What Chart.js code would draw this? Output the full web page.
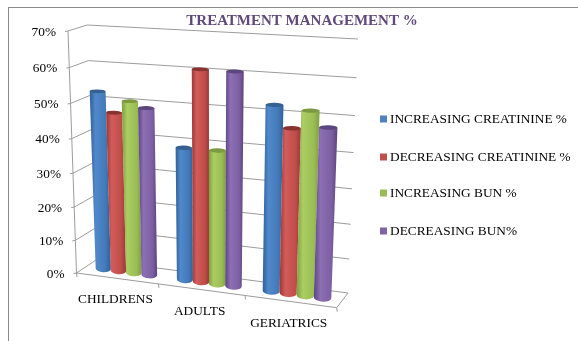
<!DOCTYPE html>
<html>
<head>
<meta charset="utf-8">
<title>Treatment management</title>
<script src="https://cdn.jsdelivr.net/npm/chart.js@4/dist/chart.umd.min.js"></script>
<style>
    html, body { margin: 0; padding: 0; background: #fff; }
    #caixa { position: relative; width: 578px; height: 341px; overflow: hidden; }
    #caixa canvas { position: absolute; left: 0; top: 0; }
    #moldura { position: absolute; left: 8px; top: 7px; right: -2px; bottom: -2px; border: 1px solid #8a8a8a; }
</style>
</head>
<body>
<div id="caixa">
    <canvas id="grafico" width="578" height="341"></canvas>
    <div id="moldura"></div>
</div>
<script>
const categories = ['CHILDRENS', 'ADULTS', 'GERIATRICS'];
const increasingCreatinine = [52.7, 38.7, 52.5];
const decreasingCreatinine = [47, 60.7, 46.6];
const increasingBun = [50.6, 38.8, 51.7];
const decreasingBun = [49, 60.7, 47.6];
const seriesNames = ['INCREASING CREATININE %', 'DECREASING CREATININE %', 'INCREASING BUN %', 'DECREASING BUN%'];
const seriesColors = ['#4F81BD', '#C0504D', '#9BBB59', '#8064A2'];
const valueMax = 70;
const valueStep = 10;

// dark edge, highlight, mid tone and cap colour of each cylinder
const shades = [
    ['#2f5f97', '#5089cb', '#4379b8', '#35608f'],
    ['#993835', '#d25c59', '#bf4d4a', '#8a3230'],
    ['#7f9f40', '#abcd63', '#9abd54', '#7d9a42'],
    ['#5c447e', '#8c6fb4', '#7c60a2', '#5d4680']
];

const FONT = '"Liberation Serif", "Times New Roman", serif';
const LINE = '#9c9c9c';

// maps the unit square onto a quadrilateral (p0 = 0,0  p1 = 1,0  p2 = 1,1  p3 = 0,1)
function homography(p0, p1, p2, p3) {
    const dx1 = p1[0] - p2[0], dx2 = p3[0] - p2[0], sx = p0[0] - p1[0] + p2[0] - p3[0];
    const dy1 = p1[1] - p2[1], dy2 = p3[1] - p2[1], sy = p0[1] - p1[1] + p2[1] - p3[1];
    const den = dx1 * dy2 - dx2 * dy1;
    const g = (sx * dy2 - dx2 * sy) / den;
    const h = (dx1 * sy - sx * dy1) / den;
    const a = p1[0] - p0[0] + g * p1[0], b = p3[0] - p0[0] + h * p3[0];
    const d = p1[1] - p0[1] + g * p1[1], e = p3[1] - p0[1] + h * p3[1];
    return function (u, v) {
        const w = g * u + h * v + 1;
        return [(a * u + b * v + p0[0]) / w, (d * u + e * v + p0[1]) / w];
    };
}

function middle(a, b) {
    return [(a[0] + b[0]) / 2, (a[1] + b[1]) / 2];
}

// the box: front plane, back wall, and the plane the bars stand in
const frontBL = [76.5, 273], frontBR = [336.7, 307.7], frontTR = [347, 45.5], frontTL = [68, 31];
const backBL = [96, 260], backBR = [348, 293], backTR = [358, 39], backTL = [87, 25];
const frontPlane = homography(frontBL, frontBR, frontTR, frontTL);
const backPlane = homography(backBL, backBR, backTR, backTL);
const barPlane = homography(middle(frontBL, backBL), middle(frontBR, backBR), middle(frontTR, backTR), middle(frontTL, backTL));

function line(ctx, a, b) {
    ctx.beginPath();
    ctx.moveTo(a[0], a[1]);
    ctx.lineTo(b[0], b[1]);
    ctx.stroke();
}

function drawBox(chart) {
    const ctx = chart.ctx, area = chart.chartArea;
    const x = chart.scales.x, y = chart.scales.y;
    ctx.save();
    ctx.strokeStyle = LINE;
    ctx.lineWidth = 1;
    ctx.fillStyle = '#000';
    ctx.font = '13.33px ' + FONT;
    ctx.textBaseline = 'middle';

    // gridlines and value labels
    line(ctx, frontPlane(0, 0), frontPlane(0, 1));
    y.ticks.forEach(function (tick) {
        const v = (area.bottom - y.getPixelForValue(tick.value)) / area.height;
        const f = frontPlane(0, v);
        line(ctx, [f[0] - 3, f[1] + 0.5], f);
        line(ctx, f, backPlane(0, v));
        line(ctx, backPlane(0, v), backPlane(1, v));
        ctx.textAlign = 'right';
        ctx.fillText(tick.label, f[0] - 12, f[1] + 1);
    });

    // floor
    line(ctx, frontPlane(0, 0), frontPlane(1, 0));
    line(ctx, frontPlane(1, 0), backPlane(1, 0));

    // category separators and labels
    ctx.textAlign = 'center';
    categories.forEach(function (name, i) {
        const c = x.getPixelForValue(i);
        const half = x.width / categories.length / 2;
        const left = frontPlane((c - half - area.left) / area.width, 0);
        const right = frontPlane((c + half - area.left) / area.width, 0);
        if (i === 0) line(ctx, left, [left[0] + 0.5, left[1] + 4]);
        line(ctx, right, [right[0] + 0.5, right[1] + 4]);
        const mid = frontPlane((c - area.left) / area.width, 0);
        ctx.fillText(name, mid[0] - 1.5, mid[1] + 21.5);
    });
    ctx.restore();
}

function drawCylinder(ctx, el, area, shade) {
    const uL = (el.x - el.width / 2 - area.left) / area.width;
    const uR = (el.x + el.width / 2 - area.left) / area.width;
    const v0 = (area.bottom - el.base) / area.height;
    const v1 = (area.bottom - el.y) / area.height;
    const bl = barPlane(uL, v0), br = barPlane(uR, v0), tr = barPlane(uR, v1), tl = barPlane(uL, v1);

    const bc = middle(bl, br), tc = middle(tl, tr);
    const bRx = Math.hypot(br[0] - bl[0], br[1] - bl[1]) / 2;
    const tRx = Math.hypot(tr[0] - tl[0], tr[1] - tl[1]) / 2;
    // the round ends stay much flatter than the plane they sit in
    const bAng = Math.atan2(br[1] - bl[1], br[0] - bl[0]) * 0.5;
    const tAng = Math.atan2(tr[1] - tl[1], tr[0] - tl[0]) * 0.3;
    const bRy = bRx * 0.45;
    const tRy = tRx * (0.2 + 0.15 * (1 - v1));
    const footL = [bc[0] - bRx * Math.cos(bAng), bc[1] - bRx * Math.sin(bAng)];
    const footR = [bc[0] + bRx * Math.cos(bAng), bc[1] + bRx * Math.sin(bAng)];
    const headL = [tc[0] - tRx * Math.cos(tAng), tc[1] - tRx * Math.sin(tAng)];
    const headR = [tc[0] + tRx * Math.cos(tAng), tc[1] + tRx * Math.sin(tAng)];

    const grad = ctx.createLinearGradient(Math.min(footL[0], headL[0]), 0, Math.max(footR[0], headR[0]), 0);
    grad.addColorStop(0, shade[0]);
    grad.addColorStop(0.28, shade[1]);
    grad.addColorStop(0.75, shade[2]);
    grad.addColorStop(1, shade[0]);

    // body with the rounded foot
    ctx.beginPath();
    ctx.moveTo(headL[0], headL[1]);
    ctx.lineTo(footL[0], footL[1]);
    ctx.ellipse(bc[0], bc[1], bRx, bRy, bAng, Math.PI, 0, true);
    ctx.lineTo(headR[0], headR[1]);
    ctx.closePath();
    ctx.fillStyle = grad;
    ctx.fill();

    // top cap
    ctx.beginPath();
    ctx.ellipse(tc[0], tc[1], tRx, tRy, tAng, 0, Math.PI * 2);
    ctx.fillStyle = shade[3];
    ctx.fill();
}

function drawLegend(chart) {
    const ctx = chart.ctx;
    const rows = [119, 157, 193, 231];
    ctx.save();
    ctx.font = '13.33px ' + FONT;
    ctx.textBaseline = 'middle';
    ctx.textAlign = 'left';
    chart.data.datasets.forEach(function (ds, i) {
        ctx.fillStyle = ds.backgroundColor;
        ctx.fillRect(380, rows[i] - 3.5, 7, 7);
        ctx.fillStyle = '#000';
        ctx.fillText(ds.label, 390, rows[i]);
    });
    ctx.restore();
}

const perspectivaPlugin = {
    id: 'perspectiva',
    beforeDatasetsDraw(chart) {
        drawBox(chart);
        chart.data.datasets.forEach(function (ds, i) {
            chart.getDatasetMeta(i).data.forEach(function (el) {
                drawCylinder(chart.ctx, el, chart.chartArea, shades[i]);
            });
        });
        drawLegend(chart);
        // the cylinders replace the flat bars
        return false;
    }
};

const seriesValues = [increasingCreatinine, decreasingCreatinine, increasingBun, decreasingBun];

new Chart(document.getElementById('grafico'), {
    type: 'bar',
    data: {
        labels: categories,
        datasets: seriesValues.map(function (values, i) {
            return { label: seriesNames[i], data: values, backgroundColor: seriesColors[i] };
        })
    },
    options: {
        responsive: false,
        animation: false,
        events: [],
        layout: { padding: { left: 26 } },
        datasets: { bar: { barPercentage: 1, categoryPercentage: 0.76 } },
        plugins: {
            legend: { display: false },
            tooltip: { enabled: false },
            title: {
                display: true,
                text: 'TREATMENT MANAGEMENT %',
                color: '#5F497A',
                font: { family: FONT, size: 15, weight: 'bold' },
                padding: { top: 12, bottom: 4 }
            }
        },
        scales: {
            x: { display: false },
            y: {
                display: false,
                min: 0,
                max: valueMax,
                ticks: { stepSize: valueStep, callback: function (v) { return v + '%'; } }
            }
        }
    },
    plugins: [perspectivaPlugin]
});
</script>
</body>
</html>
